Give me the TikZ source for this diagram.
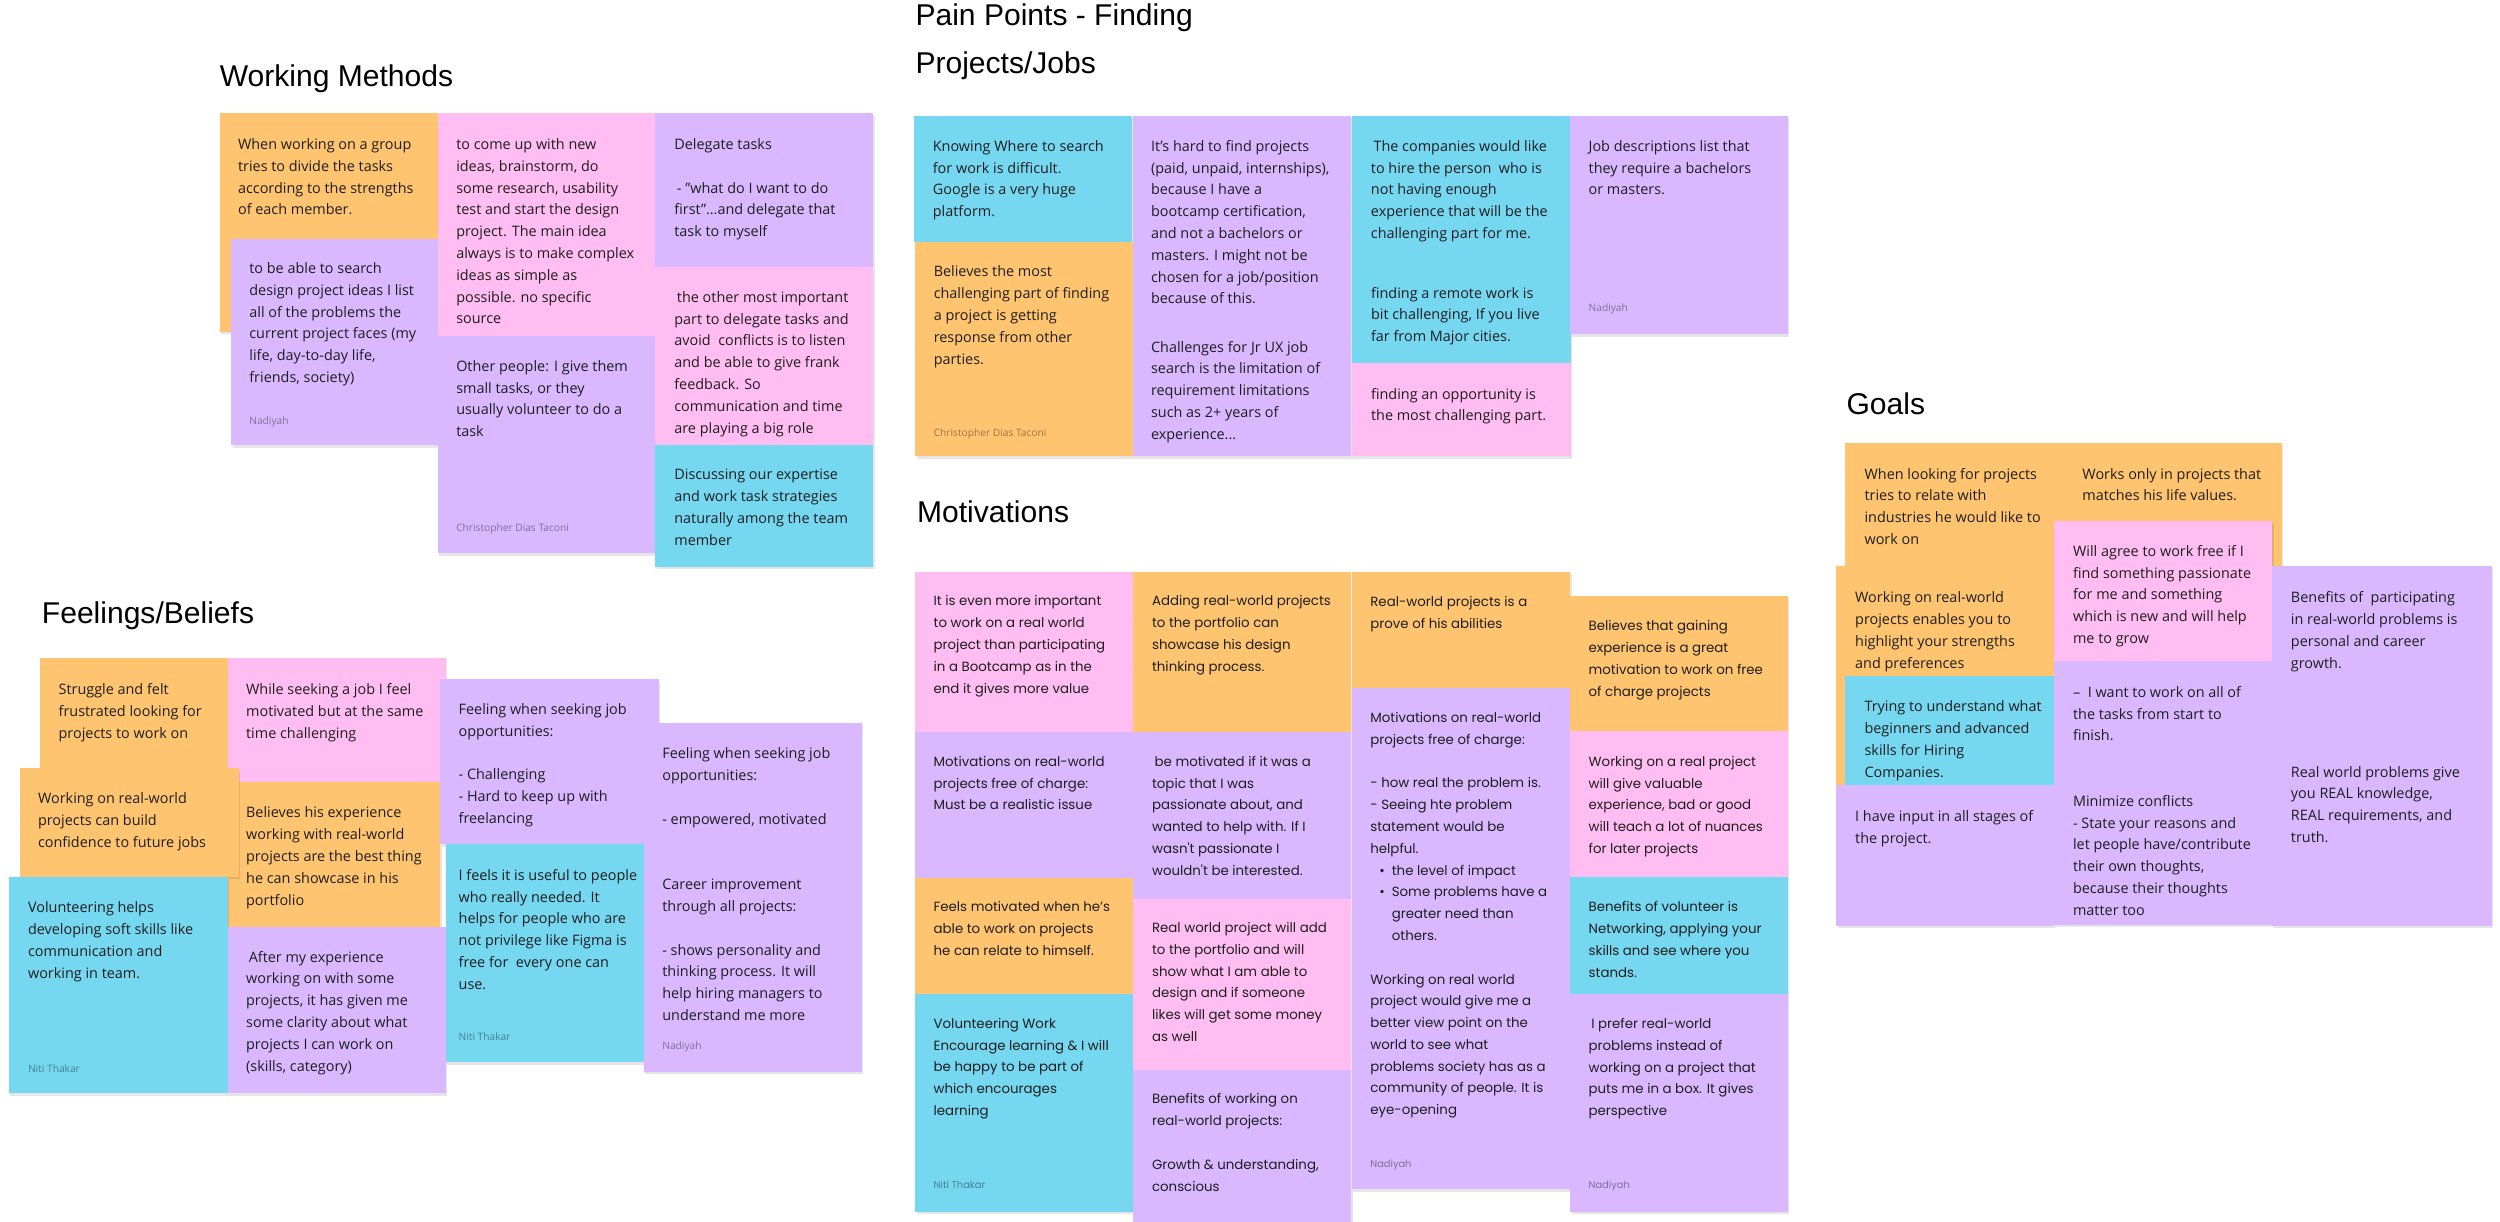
\documentclass[tikz,border=0pt]{standalone}
\usepackage{fontspec}
\setmainfont{Open Sans}
\newfontfamily\headfont{Liberation Sans}
\newfontfamily\motfont{Poppins}
\usetikzlibrary{shadows}
\definecolor{nOrange}{HTML}{FFC470}
\definecolor{nPink}{HTML}{FFBDF2}
\definecolor{nViolet}{HTML}{D9B8FF}
\definecolor{nTeal}{HTML}{75D7F0}
\definecolor{ink}{HTML}{1E1E1E}
\begin{document}
\begin{tikzpicture}[x=0.2mm,y=-0.2mm,
  sticky/.style={fill=#1,drop shadow={shadow xshift=0.3mm,shadow yshift=-0.5mm,opacity=0.10,fill=black}},
  body/.style={anchor=north west,yshift=5.7pt,align=left,inner sep=0pt,text=ink,font=\fontsize{8.2}{12.4}\selectfont,execute at begin node=\strut},
  motbody/.style={body,font=\motfont\fontsize{7.6}{12.4}\selectfont},
  author/.style={anchor=base west,inner sep=0pt,text=black,text opacity=0.4,font=\fontsize{5.8}{7}\selectfont},
  title/.style={anchor=base west,inner sep=0pt,text=black,font=\headfont\fontsize{17.1}{27.5}\selectfont}]
\useasboundingbox (0,0) rectangle (2500,1221);
\fill[white] (0,0) rectangle (2500,1221);
\clip (0,0) rectangle (2500,1221);
% Section titles
\node[title] (tWork) at (219.5,86.7) {Working Methods};
\node[title] (tFeel) at (41.6,623.3) {Feelings/Beliefs};
\node[title] (tPainA) at (915.2,25) {Pain Points - Finding};
\node[title] (tPainB) at (915.2,73.3) {Projects/Jobs};
\node[title] (tMot) at (916.7,522.5) {Motivations};
\node[title] (tGoal) at (1846.2,414.6) {Goals};
% Working Methods
\path[sticky=nOrange] (219.5,113.3) rectangle (437.7,331.7);
\path[sticky=nViolet] (231.2,239.3) rectangle (437.7,445);
\path[sticky=nPink] (437.7,113.3) rectangle (655.4,336);
\path[sticky=nViolet] (437.7,336) rectangle (655.4,553.3);
\path[sticky=nViolet] (655.4,113.3) rectangle (873,266.7);
\path[sticky=nPink] (655.4,266.7) rectangle (873,445);
\path[sticky=nTeal] (655.4,445) rectangle (873,566.7);
\node[body] (wmA) at (237.7,148.3) {When working on a group\\tries to divide the tasks\\according to the strengths\\of each member.};
\node[body] (wmB) at (249,272.3) {to be able to search\\design project ideas I list\\all of the problems the\\current project faces (my\\life, day-to-day life,\\friends, society)};
\node[author] (wmBa) at (249,424) {Nadiyah};
\node[body] (wmC) at (455.9,148.3) {to come up with new\\ideas, brainstorm, do\\some research, usability\\test and start the design\\project. The main idea\\always is to make complex\\ideas as simple as\\possible. no specific\\source};
\node[body] (wmD) at (455.9,370) {Other people: I give them\\small tasks, or they\\usually volunteer to do a\\task};
\node[author] (wmDa) at (455.9,531.3) {Christopher Dias Taconi};
\node[body] (wmE) at (674,148.3) {Delegate tasks\\[12.4pt]\hspace*{1.5pt}- "what do I want to do\\first"...and delegate that\\task to myself};
\node[body] (wmF) at (674,301) {\hspace*{1.5pt}the other most important\\part to delegate tasks and\\avoid\ \ conflicts is to listen\\and be able to give frank\\feedback. So\\communication and time\\are playing a big role};
\node[body] (wmG) at (674,479) {Discussing our expertise\\and work task strategies\\naturally among the team\\member};
% Feelings/Beliefs
\path[sticky=nOrange] (40,658.3) rectangle (227.5,768.3);
\path[sticky=nPink] (227.5,658.3) rectangle (445.5,781.7);
\path[sticky=nOrange] (227.5,781.7) rectangle (440,926.7);
\path[sticky=nOrange] (20,768.3) rectangle (238.6,876.7);
\path[sticky=nTeal] (8.9,876.7) rectangle (227.5,1093.3);
\path[sticky=nViolet] (227.5,926.7) rectangle (445.5,1093.3);
\path[sticky=nViolet] (440,679) rectangle (658.5,844);
\path[sticky=nTeal] (445.5,844) rectangle (643.6,1062.3);
\path[sticky=nViolet] (643.6,723.3) rectangle (861.6,1071.7);
\node[body] (fbA) at (58.3,693.3) {Struggle and felt\\frustrated looking for\\projects to work on};
\node[body] (fbB) at (37.7,802.3) {Working on real-world\\projects can build\\confidence to future jobs};
\node[body] (fbC) at (245.8,693.3) {While seeking a job I feel\\motivated but at the same\\time challenging};
\node[body] (fbD) at (245.8,816.7) {Believes his experience\\working with real-world\\projects are the best thing\\he can showcase in his\\portfolio};
\node[body] (fbE) at (27.7,911.7) {Volunteering helps\\developing soft skills like\\communication and\\working in team.};
\node[author] (fbEa) at (27.7,1072.3) {Niti Thakar};
\node[body] (fbF) at (245.8,960.7) {\hspace*{1.5pt}After my experience\\working on with some\\projects, it has given me\\some clarity about what\\projects I can work on\\(skills, category)};
\node[body] (fbG) at (458.3,713.3) {Feeling when seeking job\\opportunities:\\[12.4pt]- Challenging\\- Hard to keep up with\\freelancing};
\node[body] (fbH) at (458.3,879) {I feels it is useful to people\\who really needed. It\\helps for people who are\\not privilege like Figma is\\free for\ \ every one can\\use.};
\node[author] (fbHa) at (458.3,1040.3) {Niti Thakar};
\node[body] (fbI) at (662,757.7) {Feeling when seeking job\\opportunities:\\[12.4pt]- empowered, motivated\\[24.8pt]Career improvement\\through all projects:\\[12.4pt]- shows personality and\\thinking process. It will\\help hiring managers to\\understand me more};
\node[author] (fbIa) at (662,1049.7) {Nadiyah};
% Pain Points - Finding Projects/Jobs
\path[sticky=nTeal] (913.9,115.7) rectangle (1132,241.7);
\path[sticky=nOrange] (915.2,241.7) rectangle (1132.9,456);
\path[sticky=nViolet] (1132.9,115.7) rectangle (1351,456);
\path[sticky=nTeal] (1351.7,115.7) rectangle (1570,262.3);
\path[sticky=nTeal] (1351.7,262.3) rectangle (1570.7,363.3);
\path[sticky=nPink] (1351.7,363.3) rectangle (1570.7,456);
\path[sticky=nViolet] (1570,115.7) rectangle (1787.7,334.3);
\node[body] (ppA) at (932.5,150) {Knowing Where to search\\for work is difficult.\\Google is a very huge\\platform.};
\node[body] (ppB) at (933.4,275.7) {Believes the most\\challenging part of finding\\a project is getting\\response from other\\parties.};
\node[author] (ppBa) at (933.4,436.3) {Christopher Dias Taconi};
\node[body] (ppC) at (1150.7,150) {It's hard to find projects\\(paid, unpaid, internships),\\because I have a\\bootcamp certification,\\and not a bachelors or\\masters. I might not be\\chosen for a job/position\\because of this.\\[15pt]Challenges for Jr UX job\\search is the limitation of\\requirement limitations\\such as 2+ years of\\experience...};
\node[body] (ppD) at (1370.6,150) {\hspace*{1.5pt}The companies would like\\to hire the person\ \ who is\\not having enough\\experience that will be the\\challenging part for me.};
\node[body] (ppE) at (1370.7,296.7) {finding a remote work is\\bit challenging, If you live\\far from Major cities.};
\node[body] (ppF) at (1370.7,397.7) {finding an opportunity is\\the most challenging part.};
\node[body] (ppG) at (1588.3,150) {Job descriptions list that\\they require a bachelors\\or masters.};
\node[author] (ppGa) at (1588.3,311.3) {Nadiyah};
% Motivations
\path[sticky=nPink] (915,572) rectangle (1133.3,731.6);
\path[sticky=nViolet] (915,731.6) rectangle (1133.3,877.9);
\path[sticky=nOrange] (915,877.9) rectangle (1133.3,993.5);
\path[sticky=nTeal] (915,993.5) rectangle (1133.3,1211.6);
\path[sticky=nOrange] (1133.3,572) rectangle (1351,731.6);
\path[sticky=nViolet] (1133.3,731.6) rectangle (1351,898.7);
\path[sticky=nPink] (1133.3,898.7) rectangle (1351,1070);
\path[sticky=nViolet] (1133.3,1070) rectangle (1351,1300);
\path[sticky=nOrange] (1351.7,571.8) rectangle (1570,687.5);
\path[sticky=nViolet] (1351.7,687.5) rectangle (1570,1189.2);
\path[sticky=nOrange] (1570,595.8) rectangle (1787.7,731.3);
\path[sticky=nPink] (1570,731.3) rectangle (1787.7,876.5);
\path[sticky=nTeal] (1570,876.5) rectangle (1787.7,993.5);
\path[sticky=nViolet] (1570,993.5) rectangle (1787.7,1211.6);
\node[motbody] (mtA) at (933.3,605.4) {It is even more important\\to work on a real world\\project than participating\\in a Bootcamp as in the\\end it gives more value};
\node[motbody] (mtB) at (933.3,765.8) {Motivations on real-world\\projects free of charge:\\Must be a realistic issue};
\node[motbody] (mtC) at (933.3,911.2) {Feels motivated when he’s\\able to work on projects\\he can relate to himself.};
\node[motbody] (mtD) at (933.3,1027.8) {Volunteering Work\\Encourage learning \& I will\\be happy to be part of\\which encourages\\learning};
\node[author,font=\motfont\fontsize{5.6}{7}\selectfont] (mtDa) at (933.3,1188.6) {Niti Thakar};
\node[motbody] (mtE) at (1151.7,605.4) {Adding real-world projects\\to the portfolio can\\showcase his design\\thinking process.};
\node[motbody] (mtF) at (1151.7,765.8) {\hspace*{1.5pt}be motivated if it was a\\topic that I was\\passionate about, and\\wanted to help with. If I\\wasn't passionate I\\wouldn't be interested.};
\node[motbody] (mtG) at (1151.7,932) {Real world project will add\\to the portfolio and will\\show what I am able to\\design and if someone\\likes will get some money\\as well};
\node[motbody] (mtH) at (1151.7,1103.3) {Benefits of working on\\real-world projects:\\[12.4pt]Growth \& understanding,\\conscious};
\node[motbody] (mtI) at (1370,605.8) {Real-world projects is a\\prove of his abilities};
\node[motbody] (mtJ) at (1370,722) {Motivations on real-world\\projects free of charge:\\[12.4pt]- how real the problem is.\\- Seeing hte problem\\statement would be\\helpful.\\\makebox[4.3mm][l]{\hspace*{1.8mm}\textbullet}the level of impact\\\makebox[4.3mm][l]{\hspace*{1.8mm}\textbullet}Some problems have a\\\hspace*{4.3mm}greater need than\\\hspace*{4.3mm}others.\\[12.4pt]Working on real world\\project would give me a\\better view point on the\\world to see what\\problems society has as a\\community of people. It is\\eye-opening};
\node[author,font=\motfont\fontsize{5.6}{7}\selectfont] (mtJa) at (1370,1167) {Nadiyah};
\node[motbody] (mtK) at (1588.3,630.2) {Believes that gaining\\experience is a great\\motivation to work on free\\of charge projects};
\node[motbody] (mtL) at (1588.3,765.8) {Working on a real project\\will give valuable\\experience, bad or good\\will teach a lot of nuances\\for later projects};
\node[motbody] (mtM) at (1588.3,911.4) {Benefits of volunteer is\\Networking, applying your\\skills and see where you\\stands.};
\node[motbody] (mtN) at (1588.3,1028) {\hspace*{1.5pt}I prefer real-world\\problems instead of\\working on a project that\\puts me in a box. It gives\\perspective};
\node[author,font=\motfont\fontsize{5.6}{7}\selectfont] (mtNa) at (1588.3,1188.9) {Nadiyah};
% Goals
\path[sticky=nOrange] (1845,443.2) rectangle (2062.9,566.4);
\path[sticky=nOrange] (2062.9,443.2) rectangle (2281.6,566.4);
\path[sticky=nOrange] (1836,566.4) rectangle (2054.3,784.6);
\path[sticky=nTeal] (1845,676.4) rectangle (2054.3,784.6);
\path[sticky=nViolet] (1836,784.6) rectangle (2054.3,925.6);
\path[sticky=nPink] (2054.3,521) rectangle (2272.3,661.4);
\path[sticky=nViolet] (2054.3,661.4) rectangle (2272.3,924.6);
\path[sticky=nViolet] (2272.3,566.4) rectangle (2491.5,925.6);
\node[body] (glA) at (1864.2,477.8) {When looking for projects\\tries to relate with\\industries he would like to\\work on};
\node[body] (glB) at (2082.1,477.8) {Works only in projects that\\matches his life values.};
\node[body] (glC) at (1854.8,601.4) {Working on real-world\\projects enables you to\\highlight your strengths\\and preferences};
\node[body] (glD) at (1864.2,710.7) {Trying to understand what\\beginners and advanced\\skills for Hiring\\Companies.};
\node[body] (glE) at (1854.8,820) {I have input in all stages of\\the project.};
\node[body] (glF) at (2072.7,555) {Will agree to work free if I\\find something passionate\\for me and something\\which is new and will help\\me to grow};
\node[body] (glG) at (2072.7,696) {–\ \ I want to work on all of\\the tasks from start to\\finish.\\[24.8pt]Minimize conflicts\\- State your reasons and\\let people have/contribute\\their own thoughts,\\because their thoughts\\matter too};
\node[body] (glH) at (2290.6,601.4) {Benefits of\ \ participating\\in real-world problems is\\personal and career\\growth.\\[49.6pt]Real world problems give\\you REAL knowledge,\\REAL requirements, and\\truth.};
\end{tikzpicture}
\end{document}
